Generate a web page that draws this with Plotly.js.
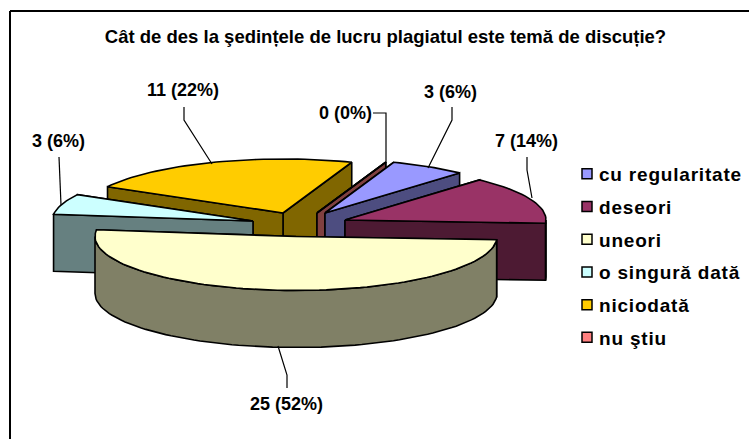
<!DOCTYPE html>
<html><head><meta charset="utf-8">
<script src="https://cdn.plot.ly/plotly-3.0.1.min.js"></script>
<style>html,body{margin:0;padding:0;background:#fff}#c{width:749px;height:439px}
.legendtext{letter-spacing:0.8px}</style></head>
<body><div id="c"></div>
<script>
// ---- data ----
const categories = ["cu regularitate","deseori","uneori","o singură dată","niciodată","nu ştiu"];
const counts = [3,7,25,3,11,0];
const labels = ["3 (6%)","7 (14%)","25 (52%)","3 (6%)","11 (22%)","0 (0%)"];
const topColors = ["#9999FF","#993366","#FFFFCC","#CCFFFF","#FFCC00","#FF8080"];
const wallColors = ["#4D4D80","#4D1A33","#808066","#668080","#806600","#804040"];
// ---- pie geometry (axis units = pixels) ----
const startAngle = 290;          // clockwise from east, on screen
const rx = 201, ry = 54, depth = 57;
const cx = [325,345,296,253,283,317];   // exploded centre of each slice
const cy = [213,220,236.5,221,213,213];
const drawOrder = [4,5,0,1,3,2];        // back to front
const title = "Cât de des la şedințele de lucru plagiatul este temă de discuție?";
const labelX = [450,526,286,58,183,345];
const labelY = [92,141,404,141,90,113];
const leaders = [
 {x:[452,452,428],y:[107,120,168]},
 {x:[527,527,532],y:[157,170,198]},
 {x:[278,287,287],y:[346,375,388]},
 {x:[59,60,61],y:[157,180,205]},
 {x:[184,184,212],y:[107,120,164]},
 {x:[373,386,386],y:[113,113,163]}
];
const total = counts.reduce((a,b)=>a+b,0);
const rad = d=>d*Math.PI/180;
const traces = [];
function poly(xs,ys,fill){
  traces.push({type:"scatter",mode:"lines",x:xs.concat(xs[0]),y:ys.concat(ys[0]),fill:"toself",fillcolor:fill,
    line:{color:"#000",width:1.6},showlegend:false,hoverinfo:"skip"});
}
let a = startAngle; const spans = counts.map(v=>{const s=[a,a+v/total*360];a=s[1];return s;});
function arc(i,t0,t1,dy){
  const n=Math.max(2,Math.ceil(Math.abs(t1-t0)/2)+1),xs=[],ys=[];
  for(let k=0;k<n;k++){const t=t0+(t1-t0)*k/(n-1);xs.push(cx[i]+rx*Math.cos(rad(t)));ys.push(cy[i]+ry*Math.sin(rad(t))+dy);}
  return {xs,ys};
}
drawOrder.forEach(i=>{
  const [s,e]=spans[i];
  [s,e].sort((p,q)=>Math.sin(rad(p))-Math.sin(rad(q))).forEach(t=>{
    const x=cx[i]+rx*Math.cos(rad(t)), y=cy[i]+ry*Math.sin(rad(t));
    poly([cx[i],x,x,cx[i]],[cy[i],y,y+depth,cy[i]+depth],wallColors[i]);
  });
  for(const off of [0,360]){
    const lo=Math.max(s,off), hi=Math.min(e,off+180);
    if(hi>lo){
      const t=arc(i,lo,hi,0), b=arc(i,hi,lo,depth);
      poly(t.xs.concat(b.xs),t.ys.concat(b.ys),wallColors[i]);
    }
  }
  const top=arc(i,s,e,0);
  poly([cx[i]].concat(top.xs),[cy[i]].concat(top.ys),topColors[i]);
});
leaders.forEach(l=>traces.push({type:"scatter",mode:"lines",x:l.x,y:l.y,line:{color:"#000",width:1.2},showlegend:false,hoverinfo:"skip"}));
categories.forEach((c,i)=>traces.push({type:"scatter",mode:"markers",name:c,x:[null],y:[null],legendgroup:c,
  marker:{symbol:"square",size:10,color:topColors[i],line:{color:"#000",width:1.5}}}));
const font={family:"Liberation Sans, Arial, sans-serif",color:"#000"};
const layout={
  width:749,height:439,margin:{l:0,r:0,t:0,b:0},paper_bgcolor:"#fff",plot_bgcolor:"#fff",
  xaxis:{range:[0,749],visible:false,fixedrange:true},
  yaxis:{range:[439,0],visible:false,fixedrange:true},
  title:{text:"<b>"+title+"</b>",x:385.5/749,xanchor:"center",y:1-36.5/439,yanchor:"middle",font:{...font,size:18.5}},
  annotations:labels.map((t,i)=>({x:labelX[i],y:labelY[i],text:"<b>"+t+"</b>",showarrow:false,font:{...font,size:18},xanchor:"center",yanchor:"middle"})),
  shapes:[
    {type:"line",xref:"x",yref:"y",x0:10,y0:11,x1:749,y1:11,line:{color:"#000",width:2},layer:"above"},
    {type:"line",xref:"x",yref:"y",x0:10,y0:11,x1:10,y1:439,line:{color:"#000",width:2},layer:"above"}
  ],
  legend:{x:559/749,xanchor:"left",y:1-155/439,yanchor:"top",traceorder:"grouped",tracegroupgap:5,
    font:{...font,size:19,weight:"bold"},bgcolor:"rgba(0,0,0,0)",itemwidth:30,itemclick:false,itemdoubleclick:false}
};
Plotly.newPlot("c",traces,layout,{staticPlot:true,displayModeBar:false}).then(gd=>{
  // legend keys sit closer to their text than the default item width allows
  gd.querySelectorAll(".legend .legendsymbols").forEach(n=>n.setAttribute("transform","translate(8,0)"));
});
</script></body></html>
